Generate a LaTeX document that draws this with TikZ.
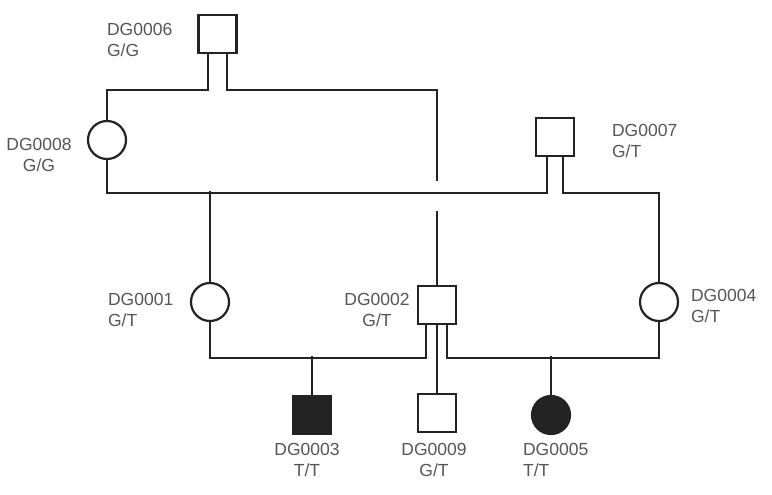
\documentclass[tikz,border=0pt]{standalone}
\usepackage{fontspec}
\setmainfont{Liberation Sans}
\definecolor{labelgray}{RGB}{85,85,85}
\definecolor{linegray}{RGB}{35,35,35}

\begin{document}
\begin{tikzpicture}[x=1pt, y=-1pt, line width=2.2pt, draw=linegray]
        \tikzstyle{male}=[rectangle,draw=linegray,fill=white,minimum size=38pt,inner sep=0pt]
        \tikzstyle{female}=[circle,draw=linegray,fill=white,minimum size=38pt,inner sep=0pt]
        \tikzstyle{affected}=[fill=linegray]
        \tikzstyle{tag}=[text=labelgray,font=\fontsize{17.5}{21.5}\selectfont,inner sep=0pt]

        \useasboundingbox (0,0) rectangle (772,495);

        \node[male] (D_6) at (217.5,34)  {};
        \node[female] (D_8) at (107,140)  {};
        \node[male] (D_7) at (555,137)  {};
        \node[female] (D_1) at (210,302)  {};
        \node[male] (D_2) at (437,305)  {};
        \node[female] (D_4) at (659,302)  {};
        \node[male,affected] (D_3) at (312,415)  {};
        \node[male] (D_9) at (437,413)  {};
        \node[female,affected] (D_5) at (551,415)  {};

        \coordinate (gap_top) at (437,181);
        \coordinate (gap_bot) at (437,211);

        \node[tag,anchor=west,align=left] (T_6) at (106,40) {DG0006\\G/G};
        \node[tag,align=center] (T_8) at (39,155) {DG0008\\G/G};
        \node[tag,anchor=west,align=left] (T_7) at (611,141) {DG0007\\G/T};
        \node[tag,anchor=west,align=left] (T_1) at (107,310) {DG0001\\G/T};
        \node[tag,align=center] (T_2) at (377,310) {DG0002\\G/T};
        \node[tag,anchor=west,align=left] (T_4) at (690,306) {DG0004\\G/T};
        \node[tag,align=center] (T_3) at (307,460) {DG0003\\T/T};
        \node[tag,align=center] (T_9) at (434,460) {DG0009\\G/T};
        \node[tag,anchor=west,align=left] (T_5) at (522,460) {DG0005\\T/T};

        \draw ([xshift=-9.5pt]D_6.south) -- ++(0,36) -| (D_8.north);
        \draw ([xshift=9.5pt]D_6.south) -- ++(0,36) -| (gap_top);
        \draw (gap_bot) -- (D_2.north);
        \draw (D_8.south) -- ++(0,33) -| ([xshift=-8pt]D_7.south);
        \draw ([xshift=8pt]D_7.south) -- ++(0,36) -| (D_4.north);
        \draw (D_1.north) -- ++(0,-91);
        \draw (D_1.south) -- ++(0,36) -| ([xshift=-11pt]D_2.south);
        \draw (D_2.south) -- (D_9.north);
        \draw ([xshift=10pt]D_2.south) -- ++(0,33) -| (D_4.south);
        \draw (D_3.north) -- ++(0,-39);
        \draw (D_5.north) -- ++(0,-39);
    \end{tikzpicture}
\end{document}
